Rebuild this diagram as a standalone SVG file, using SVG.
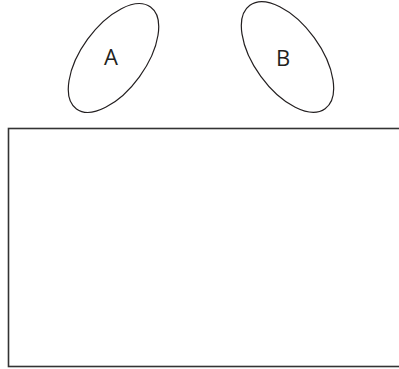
<svg xmlns="http://www.w3.org/2000/svg" width="399" height="369" viewBox="0 0 399 369">
<style>
.node ellipse{fill:none;stroke:#231f20;stroke-width:1.2}
.lbl{font-family:"Open Sans","Liberation Sans",sans-serif;font-size:22px;fill:#231f20;text-anchor:middle}
.box{fill:none;stroke:#333;stroke-width:1.6}
</style>
<rect width="399" height="369" fill="#fff"/>
<g id="A" class="node">
<ellipse cx="113.5" cy="58" rx="63" ry="32" transform="rotate(-54 113.5 58)"/>
<text class="lbl" x="111" y="65">A</text>
</g>
<g id="B" class="node">
<ellipse cx="287.5" cy="57" rx="64" ry="33" transform="rotate(54 287.5 57)"/>
<text class="lbl" x="283" y="66">B</text>
</g>
<g id="connectors"></g>
<g id="box">
<rect class="box" x="8.5" y="128.5" width="400" height="238"/>
</g>
</svg>
